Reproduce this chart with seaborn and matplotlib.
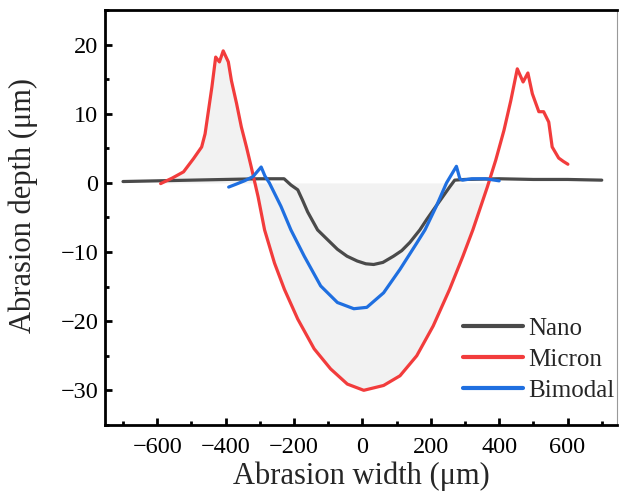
import numpy as np
import pandas as pd
import seaborn as sns
import matplotlib.pyplot as plt
from matplotlib.ticker import MultipleLocator

# values
nano_x = [-700, -600, -500, -400, -300, -250, -229, -209, -189, -175, -160, -131,
          -100, -73, -45, -15, 10, 33, 60, 91, 115, 139, 168, 188, 212, 235, 255,
          270, 300, 400, 500, 600, 700]
nano_y = [0.2, 0.3, 0.4, 0.5, 0.6, 0.6, 0.6, -0.3, -1.0, -2.5, -4.2, -6.8,
          -8.3, -9.6, -10.6, -11.3, -11.7, -11.8, -11.5, -10.6, -9.8, -8.6, -6.8,
          -5.3, -3.6, -2.0, -0.6, 0.4, 0.5, 0.6, 0.5, 0.5, 0.4]

micron_x = [-590, -556, -523, -494, -470, -460, -450, -440, -429, -418, -407, -392,
            -383, -368, -354, -339, -325, -305, -286, -257, -228, -189, -141, -93,
            -44, 4, 62, 110, 159, 207, 255, 294, 323, 366, 390, 414, 434, 453, 470,
            484, 497, 516, 530, 545, 555, 574, 588, 601]
micron_y = [-0.1, 0.7, 1.6, 3.5, 5.2, 7.1, 10.5, 13.9, 18.2, 17.5, 19.1, 17.5,
            14.8, 11.5, 8.1, 5.2, 2.3, -2.0, -6.8, -11.6, -15.4, -19.7, -24.0, -26.9,
            -29.1, -30.0, -29.3, -27.9, -25.0, -20.7, -15.4, -10.6, -6.8, -0.5, 3.3,
            7.6, 11.9, 16.5, 14.6, 15.9, 12.9, 10.3, 10.3, 8.8, 5.2, 3.6, 3.1, 2.7]

bimodal_x = [-391, -370, -345, -320, -296, -285, -272, -238, -209, -170, -122, -73,
             -25, 13, 62, 110, 159, 183, 215, 246, 275, 285, 293, 320, 360, 400]
bimodal_y = [-0.6, -0.2, 0.3, 0.9, 2.3, 1.0, 0.0, -3.4, -6.8, -10.6, -14.9, -17.3,
             -18.2, -18.0, -15.9, -12.5, -8.7, -6.8, -3.5, 0.0, 2.4, 0.6, 0.4, 0.6,
             0.6, 0.3]

names = ["Nano", "Micron", "Bimodal"]
colors = ["#4a4a4a", "#f23c3c", "#1f6fe0"]

df = pd.concat([
    pd.DataFrame({"x": nano_x, "y": nano_y, "sample": "Nano"}),
    pd.DataFrame({"x": micron_x, "y": micron_y, "sample": "Micron"}),
    pd.DataFrame({"x": bimodal_x, "y": bimodal_y, "sample": "Bimodal"}),
])

sns.set_style("ticks")
plt.rcParams["font.family"] = ["Liberation Serif", "DejaVu Serif"]

fig = plt.figure(figsize=(6.19, 5.04), dpi=100)
ax = fig.add_axes([0.170, 0.157, 0.827, 0.823])

# faint shading of the worn area (left of where the micron curve crosses zero)
mx = np.array(micron_x)
ax.fill_between(mx, micron_y, 0, where=mx <= 370, color="#f2f2f2", zorder=0, lw=0)
sns.lineplot(data=df, x="x", y="y", hue="sample", hue_order=names,
             palette=colors, estimator=None, sort=False, linewidth=2.3, ax=ax)

ax.set_xlim(-752, 745)
ax.set_ylim(-35, 25)
ax.xaxis.set_major_locator(MultipleLocator(200))
ax.xaxis.set_minor_locator(MultipleLocator(100))
ax.yaxis.set_major_locator(MultipleLocator(10))
ax.yaxis.set_minor_locator(MultipleLocator(5))
ax.tick_params(which="both", direction="in", width=2, labelsize=17.5, colors="black")
ax.tick_params(which="major", length=5)
ax.tick_params(which="minor", length=3)
ax.tick_params(axis="x", pad=9)
ax.tick_params(axis="y", pad=5)
for s in ax.spines.values():
    s.set_linewidth(2)
    s.set_color("black")
ax.spines["right"].set_linewidth(0.8)
ax.spines["right"].set_color("#999999")

ax.set_xlabel("Abrasion width (\u03bcm)", fontsize=22, labelpad=2)
ax.set_ylabel("Abrasion depth (\u03bcm)", fontsize=22)
ax.yaxis.set_label_coords(-0.131, 0.53)

leg = ax.legend(loc="lower right", bbox_to_anchor=(1.024, 0.02), frameon=False,
                fontsize=18, handlelength=2.4, handletextpad=0.2, labelspacing=0.33,
                borderaxespad=0.2)
for line in leg.get_lines():
    line.set_linewidth(3)

fig.savefig("out.png", dpi=100)
